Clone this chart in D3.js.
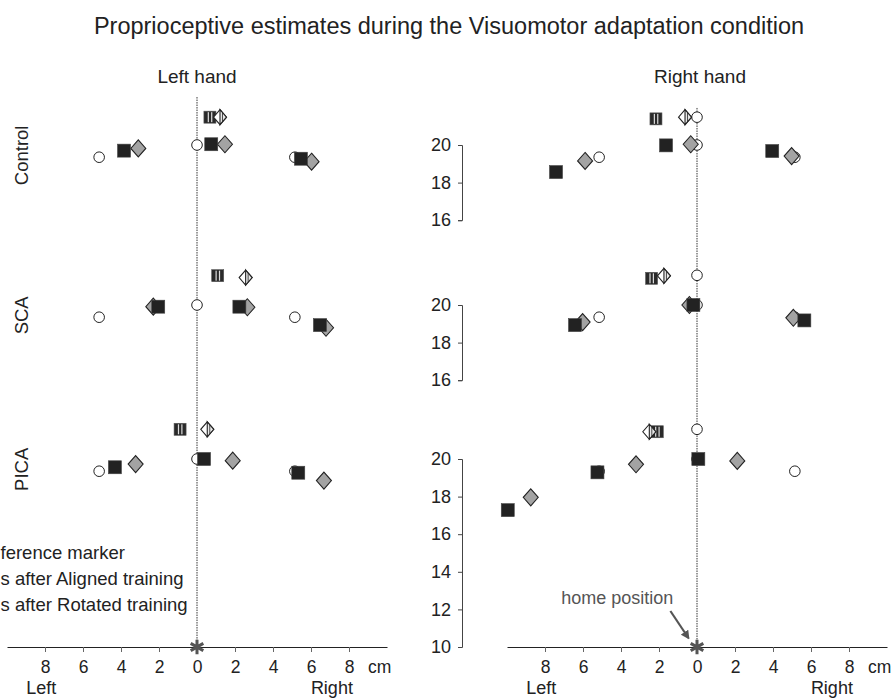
<!DOCTYPE html>
<html>
<head>
<meta charset="utf-8">
<script src="https://cdn.jsdelivr.net/npm/d3@7"></script>
<style>
  body { margin: 0; background: #fff; }
  svg { display: block; font-family: "Liberation Sans", Arial, sans-serif; }
</style>
</head>
<body>
<svg id="chart" width="893" height="699"></svg>
<script>
// groups (rows) and hands (panels)
var groups = ["Control", "SCA", "PICA"];
var hands = ["Left hand", "Right hand"];
var xTicks = [-8, -6, -4, -2, 0, 2, 4, 6, 8];
var yTicksTop = [16, 18, 20];
var yTicksBottom = [10, 12, 14, 16, 18, 20];
// legend labels, as far as they show at the left edge of the figure
var legendLabels = ["ference marker", "s after Aligned training", "s after Rotated training"];

// reference markers (same for each group)
var refX = [-5.15, 0, 5.15];
var refY = [19.35, 20, 19.35];

// left hand, per group: three targets
var leftAlignedX = [[-3.84, 0.75, 5.47], [-2.04, 2.23, 6.47], [-4.32, 0.37, 5.33]];
var leftAlignedY = [[19.70, 20.04, 19.27], [19.91, 19.91, 18.93], [19.56, 20.00, 19.27]];
var leftRotatedX = [[-3.09, 1.47, 6.03], [-2.30, 2.65, 6.79], [-3.23, 1.88, 6.68]];
var leftRotatedY = [[19.82, 20.04, 19.11], [19.91, 19.88, 18.79], [19.73, 19.91, 18.85]];
// left hand mean shift row
var leftMeanAlignedX = [0.68, 1.09, -0.89];
var leftMeanAlignedY = [21.48, 21.56, 21.58];
var leftMeanRotatedX = [1.21, 2.56, 0.54];
var leftMeanRotatedY = [21.48, 21.46, 21.58];

// right hand
var rightAlignedX = [[-7.42, -1.63, 3.96], [-6.42, -0.19, 5.65], [-9.96, -5.24, 0.07]];
var rightAlignedY = [[18.56, 19.98, 19.68], [18.93, 20.00, 19.18], [17.28, 19.29, 20.00]];
var rightRotatedX = [[-5.89, -0.33, 4.98], [-6.02, -0.40, 5.07], [-8.75, -3.21, 2.12]];
var rightRotatedY = [[19.15, 20.04, 19.41], [19.09, 20.00, 19.32], [17.96, 19.72, 19.90]];
var rightMeanAlignedX = [-2.16, -2.39, -2.09];
var rightMeanAlignedY = [21.39, 21.42, 21.45];
var rightMeanRotatedX = [-0.63, -1.74, -2.51];
var rightMeanRotatedY = [21.48, 21.55, 21.45];
var rightMeanRefX = [0, 0, 0];
var rightMeanRefY = [21.48, 21.58, 21.58];

var svg = d3.select("#chart");
var ink = "#222";
var grayFill = "#a3a3a3";
var homeGray = "#555";

// layout
var rowShift = [-314, -154, 0];   // vertical offset of each group row
var panelLeft = [7, 507];         // x range start of each panel

var y = d3.scaleLinear().domain([10, 20]).range([647, 459]);

var panels = [
    {x: d3.scaleLinear().domain([-10, 10]).range([panelLeft[0], panelLeft[0] + 380]),
     alignedX: leftAlignedX, alignedY: leftAlignedY, rotatedX: leftRotatedX, rotatedY: leftRotatedY,
     mAX: leftMeanAlignedX, mAY: leftMeanAlignedY, mRX: leftMeanRotatedX, mRY: leftMeanRotatedY,
     mRefX: null, mRefY: null, lineTop: 22.55},
    {x: d3.scaleLinear().domain([-10, 10]).range([panelLeft[1], panelLeft[1] + 380]),
     alignedX: rightAlignedX, alignedY: rightAlignedY, rotatedX: rightRotatedX, rotatedY: rightRotatedY,
     mAX: rightMeanAlignedX, mAY: rightMeanAlignedY, mRX: rightMeanRotatedX, mRY: rightMeanRotatedY,
     mRefX: rightMeanRefX, mRefY: rightMeanRefY, lineTop: 21.97}
];

// title
svg.append("text")
    .attr("x", 449).attr("y", 34)
    .attr("text-anchor", "middle")
    .style("font-size", "23.5px")
    .attr("fill", ink)
    .text("Proprioceptive estimates during the Visuomotor adaptation condition");

// markers
function drawSquare(g, cx, cy) {
    g.append("rect")
        .attr("x", cx - 6.5).attr("y", cy - 6.5)
        .attr("width", 13).attr("height", 13)
        .attr("fill", ink).attr("stroke", "#444").attr("stroke-width", 0.6);
}
function drawDiamond(g, cx, cy, fill) {
    g.append("path")
        .attr("d", "M" + cx + "," + (cy - 8.5) + "L" + (cx + 7.5) + "," + cy + "L" + cx + "," + (cy + 8.5) + "L" + (cx - 7.5) + "," + cy + "Z")
        .attr("fill", fill).attr("stroke", ink).attr("stroke-width", 1.1);
}
function drawCircle(g, cx, cy) {
    g.append("circle")
        .attr("cx", cx).attr("cy", cy).attr("r", 5.3)
        .attr("fill", "#fff").attr("stroke", ink).attr("stroke-width", 1);
}
function drawStriped(g, cx, cy) {
    g.append("rect")
        .attr("x", cx - 6).attr("y", cy - 6).attr("width", 12).attr("height", 12)
        .attr("fill", "#2a2a2a").attr("stroke", "#555").attr("stroke-width", 0.6);
    [-2.2, 1.2].forEach(function (o) {
        g.append("rect")
            .attr("x", cx + o).attr("y", cy - 5)
            .attr("width", 1.2).attr("height", 10)
            .attr("fill", "#ddd");
    });
}
function drawHalfDiamond(g, cx, cy) {
    g.append("path")
        .attr("d", "M" + cx + "," + (cy - 7.5) + "L" + (cx + 6.5) + "," + cy + "L" + cx + "," + (cy + 7.5) + "L" + (cx - 6.5) + "," + cy + "Z")
        .attr("fill", "#fff").attr("stroke", ink).attr("stroke-width", 1.1);
    g.append("path")
        .attr("d", "M" + cx + "," + (cy - 7.5) + "L" + (cx + 6.5) + "," + cy + "L" + cx + "," + (cy + 7.5) + "Z")
        .attr("fill", "#e8e8e8").attr("stroke", ink).attr("stroke-width", 1.1);
    g.append("line")
        .attr("x1", cx + 2.5).attr("x2", cx + 2.5)
        .attr("y1", cy - 4.5).attr("y2", cy + 4.5)
        .attr("stroke", ink).attr("stroke-width", 0.8);
}

panels.forEach(function (p, h) {
    var x = p.x;

    // panel heading
    svg.append("text")
        .attr("x", x(0) + (h ? 3 : 0)).attr("y", 83)
        .attr("text-anchor", "middle")
        .style("font-size", "19px")
        .attr("fill", ink)
        .text(hands[h]);

    // dotted midline
    svg.append("line")
        .attr("x1", x(0)).attr("x2", x(0))
        .attr("y1", y(p.lineTop) + rowShift[0]).attr("y2", y(10))
        .attr("stroke", "#333").attr("stroke-width", 1)
        .attr("stroke-dasharray", "1.5,1");

    // x axis
    var xAxis = svg.append("g")
        .attr("transform", "translate(0," + y(10) + ")")
        .call(d3.axisBottom(x).tickValues(xTicks).tickSize(5).tickSizeOuter(0)
            .tickFormat(function (d) { return Math.abs(d); }));
    xAxis.select(".domain").attr("stroke", ink).attr("stroke-width", 1.2);
    xAxis.selectAll(".tick line").attr("stroke", "#666");
    xAxis.selectAll(".tick text")
        .attr("y", 26).attr("dy", null)
        .style("font-size", "17.5px")
        .style("font-family", "Liberation Sans, Arial, sans-serif")
        .attr("fill", ink);
    xAxis.append("text")
        .attr("x", x(9.0)).attr("y", 26)
        .attr("text-anchor", "start")
        .style("font-size", "17.5px")
        .attr("fill", ink)
        .text("cm");
    xAxis.append("text")
        .attr("x", x(-8.2)).attr("y", 47)
        .attr("text-anchor", "middle")
        .style("font-size", "18px")
        .attr("fill", ink)
        .text("Left");
    xAxis.append("text")
        .attr("x", x(7.1)).attr("y", 47)
        .attr("text-anchor", "middle")
        .style("font-size", "18px")
        .attr("fill", ink)
        .text("Right");

    // home position star
    svg.append("path")
        .attr("transform", "translate(" + x(0) + "," + y(10) + ")")
        .attr("d", d3.symbol().type(d3.symbolAsterisk).size(150)())
        .attr("fill", "none").attr("stroke", homeGray).attr("stroke-width", 3);

    groups.forEach(function (gname, r) {
        var g = svg.append("g").attr("transform", "translate(0," + rowShift[r] + ")");

        // y axis on the right panel
        if (h === 1) {
            var ticks = r === 2 ? yTicksBottom : yTicksTop;
            var ySub = d3.scaleLinear().domain(d3.extent(ticks)).range([y(d3.min(ticks)), y(d3.max(ticks))]);
            var yAxis = g.append("g")
                .attr("transform", "translate(462,0)")
                .call(d3.axisLeft(ySub).tickValues(ticks).tickSize(4).tickSizeOuter(4)
                    .tickFormat(d3.format("d")));
            yAxis.select(".domain").attr("stroke", "#444");
            yAxis.selectAll(".tick line").attr("stroke", "#444");
            yAxis.selectAll(".tick text")
                .attr("x", -11)
                .style("font-size", "18px")
                .style("font-family", "Liberation Sans, Arial, sans-serif")
                .attr("fill", ink);
        }

        // row label on the left
        if (h === 0) {
            svg.append("text")
                .attr("transform", "translate(28," + (y(19.45) + rowShift[r]) + ") rotate(-90)")
                .attr("text-anchor", "middle")
                .style("font-size", "18.5px")
                .attr("fill", ink)
                .text(gname);
        }

        refX.forEach(function (v, i) { drawCircle(g, x(v), y(refY[i])); });
        p.rotatedX[r].forEach(function (v, i) { drawDiamond(g, x(v), y(p.rotatedY[r][i]), grayFill); });
        p.alignedX[r].forEach(function (v, i) { drawSquare(g, x(v), y(p.alignedY[r][i])); });

        if (p.mRefX) drawCircle(g, x(p.mRefX[r]), y(p.mRefY[r]));
        drawStriped(g, x(p.mAX[r]), y(p.mAY[r]));
        drawHalfDiamond(g, x(p.mRX[r]), y(p.mRY[r]));
    });
});

// legend text, running in from the left edge
legendLabels.forEach(function (t, i) {
    svg.append("text")
        .attr("x", 0.5).attr("y", 559 + i * 26)
        .attr("text-anchor", "start")
        .style("font-size", "18.5px")
        .attr("fill", ink)
        .text(t);
});

// home position annotation
var xr = panels[1].x;
svg.append("defs").append("marker")
    .attr("id", "arrow").attr("viewBox", "0 0 10 10")
    .attr("refX", 8).attr("refY", 5)
    .attr("markerWidth", 4).attr("markerHeight", 4)
    .attr("orient", "auto")
    .append("path").attr("d", "M0,0L10,5L0,10Z").attr("fill", homeGray);
svg.append("text")
    .attr("x", xr(-4.2)).attr("y", 604)
    .attr("text-anchor", "middle")
    .style("font-size", "18px")
    .attr("fill", homeGray)
    .text("home position");
svg.append("line")
    .attr("x1", xr(-1.4)).attr("y1", 611)
    .attr("x2", xr(-0.45)).attr("y2", 638)
    .attr("stroke", homeGray).attr("stroke-width", 2.2)
    .attr("marker-end", "url(#arrow)");
</script>
</body>
</html>
